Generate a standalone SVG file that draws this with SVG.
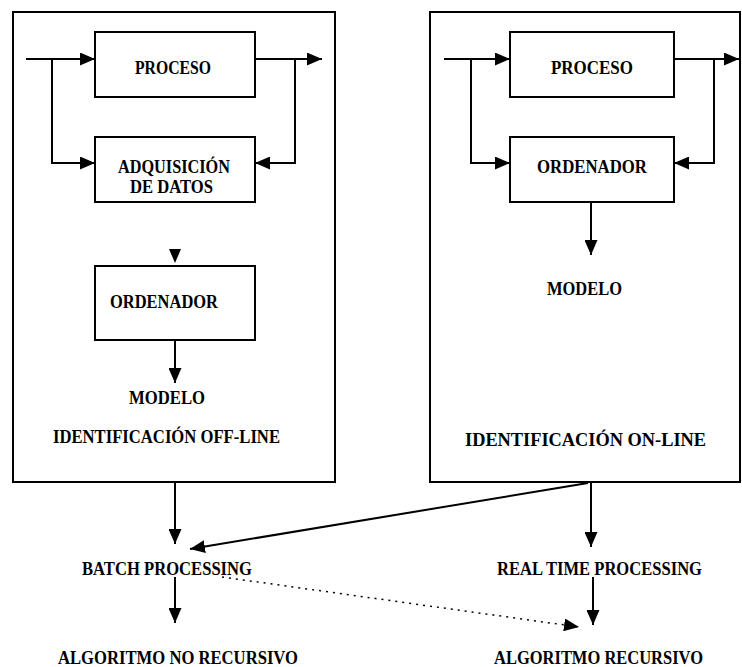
<svg xmlns="http://www.w3.org/2000/svg" width="742" height="667" viewBox="0 0 742 667">
<style>
.box{fill:none;stroke:#000;stroke-width:2}
.ln{fill:none;stroke:#000;stroke-width:2}
.dot{fill:none;stroke:#000;stroke-width:1.5;stroke-dasharray:2 5}
text{font-family:"Liberation Serif","Times New Roman",serif;font-weight:bold;font-size:18px;fill:#000}
</style>
<defs>
<marker id="ah" markerUnits="userSpaceOnUse" markerWidth="15" markerHeight="13" refX="15" refY="6.5" orient="auto">
<path d="M0,0 L15,6.5 L0,13 z" fill="#000"/>
</marker>
</defs>
<rect width="742" height="667" fill="#fff"/>
<g id="offline-frame">
<rect class="box" x="13" y="12" width="322" height="470"/>
<text x="53" y="443" textLength="227" lengthAdjust="spacingAndGlyphs">IDENTIFICACIÓN OFF-LINE</text>
</g>
<g id="online-frame">
<rect class="box" x="430" y="12" width="310" height="470"/>
<text x="465" y="446" textLength="241" lengthAdjust="spacingAndGlyphs">IDENTIFICACIÓN ON-LINE</text>
</g>
<g id="proceso-left">
<rect class="box" x="95" y="32" width="160" height="65"/>
<text x="135" y="74" textLength="76" lengthAdjust="spacingAndGlyphs">PROCESO</text>
</g>
<g id="adquisicion">
<rect class="box" x="95" y="137" width="160" height="65"/>
<text x="118" y="173" textLength="112" lengthAdjust="spacingAndGlyphs">ADQUISICIÓN</text>
<text x="130" y="193" textLength="83" lengthAdjust="spacingAndGlyphs">DE DATOS</text>
</g>
<g id="ordenador-left">
<rect class="box" x="95" y="266" width="160" height="74"/>
<text x="110" y="308" textLength="108" lengthAdjust="spacingAndGlyphs">ORDENADOR</text>
</g>
<g id="modelo-left">
<text x="129" y="404" textLength="76" lengthAdjust="spacingAndGlyphs">MODELO</text>
</g>
<g id="proceso-right">
<rect class="box" x="510" y="32" width="164" height="65"/>
<text x="551" y="74" textLength="82" lengthAdjust="spacingAndGlyphs">PROCESO</text>
</g>
<g id="ordenador-right">
<rect class="box" x="510" y="137" width="164" height="65"/>
<text x="537" y="173" textLength="110" lengthAdjust="spacingAndGlyphs">ORDENADOR</text>
</g>
<g id="modelo-right">
<text x="547" y="295" textLength="75" lengthAdjust="spacingAndGlyphs">MODELO</text>
</g>
<g id="batch">
<text x="82" y="575" textLength="170" lengthAdjust="spacingAndGlyphs">BATCH PROCESSING</text>
</g>
<g id="realtime">
<text x="497" y="575" textLength="205" lengthAdjust="spacingAndGlyphs">REAL TIME PROCESSING</text>
</g>
<g id="alg-no-rec">
<text x="58" y="664" textLength="240" lengthAdjust="spacingAndGlyphs">ALGORITMO NO RECURSIVO</text>
</g>
<g id="alg-rec">
<text x="494" y="664" textLength="209" lengthAdjust="spacingAndGlyphs">ALGORITMO RECURSIVO</text>
</g>
<g id="connectors">
<path class="ln" d="M26,59 H95" marker-end="url(#ah)"/>
<path class="ln" d="M52,59 V163 H95" marker-end="url(#ah)"/>
<path class="ln" d="M255,59 H322" marker-end="url(#ah)"/>
<path class="ln" d="M295,59 V163 H255" marker-end="url(#ah)"/>
<polygon points="169,249 181,249 175,263" fill="#000"/>
<path class="ln" d="M175,340 V383" marker-end="url(#ah)"/>
<path class="ln" d="M444,59 H510" marker-end="url(#ah)"/>
<path class="ln" d="M471,59 V163 H510" marker-end="url(#ah)"/>
<path class="ln" d="M674,59 H739" marker-end="url(#ah)"/>
<path class="ln" d="M714,59 V163 H674" marker-end="url(#ah)"/>
<path class="ln" d="M591,202 V255" marker-end="url(#ah)"/>
<path class="ln" d="M175,482 V544" marker-end="url(#ah)"/>
<path class="ln" d="M591,482 V547" marker-end="url(#ah)"/>
<path class="ln" d="M588,483 L190,549" marker-end="url(#ah)"/>
<path class="ln" d="M175,577 V623" marker-end="url(#ah)"/>
<path class="ln" d="M593,577 V625" marker-end="url(#ah)"/>
<path class="dot" d="M222,577 L579,627" marker-end="url(#ah)"/>
</g>
</svg>
